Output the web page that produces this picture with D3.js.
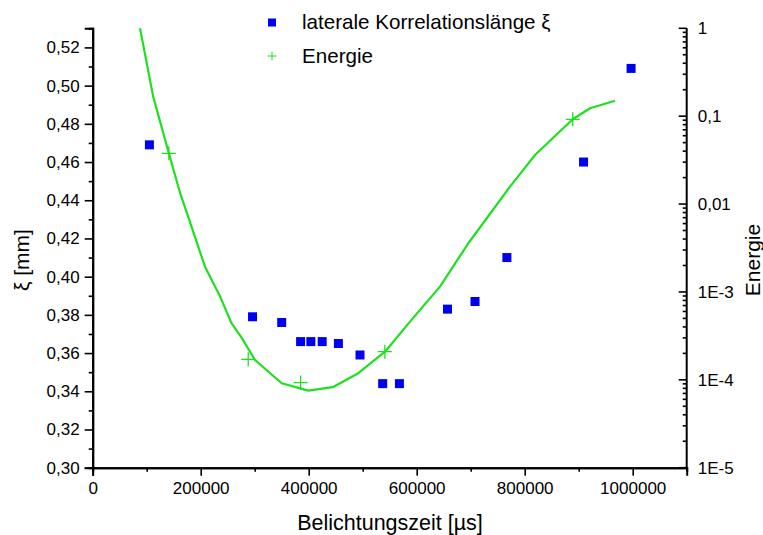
<!DOCTYPE html>
<html>
<head>
<meta charset="utf-8">
<script src="https://cdn.jsdelivr.net/npm/d3@7/dist/d3.min.js"></script>
<style>
  html, body { margin: 0; padding: 0; background: #ffffff; }
  svg { display: block; }
  text { font-family: "Liberation Sans", Arial, sans-serif; fill: #000; }
</style>
</head>
<body>
<svg id="chart" width="763" height="535"></svg>
<script>
// ---- data ----
const xiTime  = [105000, 296000, 350000, 385000, 404000, 425000, 455000, 495000, 537000, 568000, 657000, 708000, 767000, 909000, 997000];
const xiValue = [0.469, 0.379, 0.376, 0.366, 0.366, 0.366, 0.365, 0.359, 0.344, 0.344, 0.383, 0.387, 0.410, 0.460, 0.509];

const energyTime  = [141000, 288000, 385000, 541000, 889000];
const energyValue = [0.0378, 1.71e-4, 9.3e-5, 2.09e-4, 0.0922];

const curveTime  = [87600, 112000, 141000, 162000, 208000, 236000, 257000, 276000, 300600, 350000, 399300, 444400, 491900, 541300, 587600, 643100, 695600, 772800, 819100, 888900, 921000, 967300];
const curveValue = [1.0, 0.167, 0.0378, 0.0133, 1.94e-3, 8.85e-4, 4.41e-4, 3.0e-4, 1.68e-4, 9.15e-5, 7.53e-5, 8.24e-5, 1.19e-4, 2.09e-4, 4.59e-4, 1.15e-3, 3.58e-3, 0.0158, 0.0362, 0.0922, 0.123, 0.150];

const xTicks = [0, 200000, 400000, 600000, 800000, 1000000];
const xMinorTicks = [100000, 300000, 500000, 700000, 900000, 1100000];
const yTicks = [0.30, 0.32, 0.34, 0.36, 0.38, 0.40, 0.42, 0.44, 0.46, 0.48, 0.50, 0.52];
const yMinorTicks = [0.31, 0.33, 0.35, 0.37, 0.39, 0.41, 0.43, 0.45, 0.47, 0.49, 0.51, 0.53];
const eTicks = [1e-5, 1e-4, 1e-3, 1e-2, 1e-1, 1];
const eTickLabels = ["1E-5", "1E-4", "1E-3", "0,01", "0,1", "1"];

const legendLabels = ["laterale Korrelationslänge ξ", "Energie"];
const xTitle = "Belichtungszeit [µs]";
const yTitle = "ξ [mm]";
const eTitle = "Energie";

// ---- layout ----
const L = 92.7, R = 686.7, T = 28.3, B = 467.7;
const blue = "#0000f0";
const green = "#1ee01e";

const svg = d3.select("#chart");
const x = d3.scaleLinear().domain([0, 1100000]).range([L, R]);
const y = d3.scaleLinear().domain([0.30, 0.53]).range([B, T]);
const ye = d3.scaleLog().domain([1e-5, 1]).range([B, T]);

const commaFmt = v => d3.format(".2f")(v).replace(".", ",");
const fontTick = "17px";

// bottom axis
const gx = svg.append("g").attr("transform", `translate(0,${B})`)
  .call(d3.axisBottom(x).tickValues(xTicks).tickFormat(d3.format("d")).tickSize(8).tickPadding(6));
const gxm = svg.append("g").attr("transform", `translate(0,${B})`)
  .call(d3.axisBottom(x).tickValues(xMinorTicks).tickFormat("").tickSize(4));

// left axis
const gy = svg.append("g").attr("transform", `translate(${L},0)`)
  .call(d3.axisLeft(y).tickValues(yTicks).tickFormat(commaFmt).tickSize(8).tickPadding(5));
const gym = svg.append("g").attr("transform", `translate(${L},0)`)
  .call(d3.axisLeft(y).tickValues(yMinorTicks).tickFormat("").tickSize(4));

// right axis (ticks inward, labels outside)
const gr = svg.append("g").attr("transform", `translate(${R},0)`);
gr.call(d3.axisRight(ye).tickValues(eTicks).tickFormat((d, i) => eTickLabels[i]).tickSize(0).tickPadding(11));
const eMinor = [];
for (let p = -5; p < 0; p++) for (let m = 2; m <= 9; m++) eMinor.push(m * Math.pow(10, p));
gr.selectAll("line.maj").data(eTicks).enter().append("line").attr("class", "maj")
  .attr("x1", -8).attr("x2", 0).attr("y1", d => ye(d)).attr("y2", d => ye(d));
gr.selectAll("line.min").data(eMinor).enter().append("line").attr("class", "min")
  .attr("x1", -4).attr("x2", 0).attr("y1", d => ye(d)).attr("y2", d => ye(d));

[gx, gxm, gy, gym, gr].forEach(g => {
  g.selectAll("path.domain").attr("stroke", "#000").attr("stroke-width", 2);
  g.selectAll("line").attr("stroke", "#000").attr("stroke-width", 1.6);
  g.selectAll("text").style("font-size", fontTick).style("font-family", '"Liberation Sans", Arial, sans-serif').attr("fill", "#1a1a1a");
});
gr.select("path.domain").attr("d", `M0,${B}V${T}`);

// energy curve
const line = d3.line().x((d, i) => x(curveTime[i])).y((d, i) => ye(curveValue[i]));
svg.append("path").datum(curveTime).attr("d", line)
  .attr("fill", "none").attr("stroke", green).attr("stroke-width", 2.2).attr("stroke-linejoin", "round");

// energy markers (+)
const ms = 7;
svg.append("g").selectAll("path").data(energyTime).enter().append("path")
  .attr("d", (d, i) => {
    const cx = x(d), cy = ye(energyValue[i]);
    return `M${cx - ms},${cy}H${cx + ms}M${cx},${cy - ms}V${cy + ms}`;
  })
  .attr("stroke", green).attr("stroke-width", 1.3).attr("fill", "none");

// xi markers (squares)
const sq = 9;
svg.append("g").selectAll("rect").data(xiTime).enter().append("rect")
  .attr("x", d => x(d) - sq / 2).attr("y", (d, i) => y(xiValue[i]) - sq / 2)
  .attr("width", sq).attr("height", sq).attr("fill", blue);

// legend
const lg = svg.append("g");
lg.append("rect").attr("x", 268).attr("y", 18.5).attr("width", 8).attr("height", 8).attr("fill", blue);
lg.append("path").attr("d", "M267.5,56H276.5M272,51.5V60.5").attr("stroke", green).attr("stroke-width", 1).attr("fill", "none");
lg.selectAll("text").data(legendLabels).enter().append("text")
  .attr("x", 302).attr("y", (d, i) => 29 + i * 34)
  .style("font-size", "20.6px").text(d => d);

// axis titles
svg.append("text").attr("x", 390).attr("y", 530).attr("text-anchor", "middle")
  .style("font-size", "21.5px").text(xTitle);
svg.append("text").attr("transform", "translate(29,260) rotate(-90)").attr("text-anchor", "middle")
  .style("font-size", "21px").text(yTitle);
svg.append("text").attr("transform", "translate(760,260) rotate(-90)").attr("text-anchor", "middle")
  .style("font-size", "21px").text(eTitle);
</script>
</body>
</html>
